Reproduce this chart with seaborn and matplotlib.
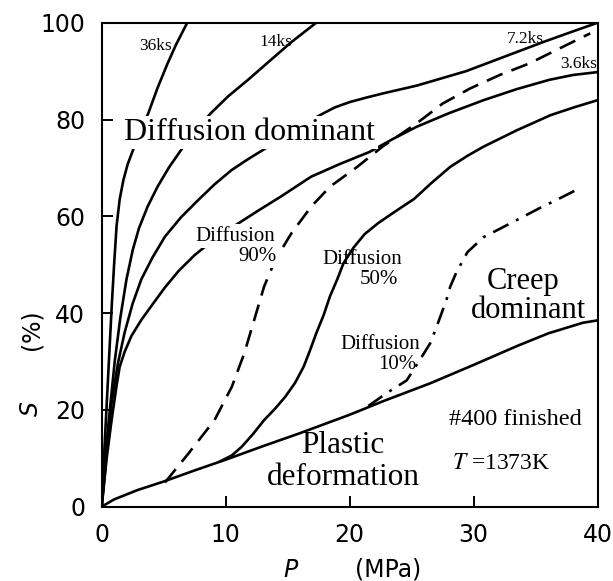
import matplotlib
matplotlib.use("Agg")
import matplotlib.pyplot as plt
import seaborn as sns

# ---------------- data ----------------
p_36ks = [0, 0.2, 0.4, 0.6, 0.8, 1.0, 1.2, 1.45, 1.75, 2.1, 2.5, 3.0, 3.76, 4.5, 5.3, 6.0, 6.9]
s_36ks = [0, 11, 21, 31, 41, 50, 58, 63.5, 67.5, 70.8, 73.5, 77, 81.3, 86.5, 91.5, 95.5, 100]

p_14ks = [0, 0.5, 1.05, 1.5, 2.0, 2.5, 3.0, 3.7, 4.5, 5.4, 6.4, 7.5, 8.8, 10.2, 11.8, 13.5, 15.3, 17.3]
s_14ks = [0, 16, 30, 39, 47, 53, 57.5, 62, 66.1, 70, 73.7, 77.5, 81.3, 84.8, 88.2, 92, 96, 100]

p_72ks = [0, 0.4, 0.8, 1.3, 1.85, 2.5, 3.2, 4.1, 5.1, 6.4, 7.8, 9.1, 10.5, 11.8, 13.0, 15.3,
          17.6, 18.8, 20, 21.3, 22.7, 25.4, 27.4, 29.4, 32.5, 35.6, 38, 40]
s_72ks = [0, 11, 21.4, 29.5, 36, 42, 47, 51.5, 55.8, 59.8, 63.4, 66.6, 69.6, 71.8, 73.7, 77.5,
          80.9, 82.5, 83.6, 84.5, 85.4, 87, 88.5, 90, 93, 96, 98.2, 100]

p_36s = [0, 0.4, 0.8, 1.2, 1.45, 1.85, 2.4, 3.2, 4.1, 5.1, 6.2, 7.5, 9.2, 11.0, 12.7, 14.4,
         16.9, 19.2, 21.6, 23.5, 25.4, 28, 30.8, 33.5, 36.1, 38, 40]
s_36s = [0, 10, 17.9, 25, 28.9, 32, 35.3, 38.6, 41.8, 45.3, 48.7, 52, 55.5, 58.5, 61.3, 64,
         68.2, 70.8, 73.3, 76, 78.5, 81.3, 84, 86.3, 88.2, 89.2, 89.8]

p_plastic = [0, 1.0, 2.85, 5.0, 7.5, 10.1, 13.0, 16.0, 20.0, 22.7, 26.5, 30.0, 33.5, 36.0, 38.8, 40]
s_plastic = [0, 1.5, 3.4, 5.2, 7.5, 9.8, 12.5, 15.2, 19.0, 21.8, 25.5, 29.3, 33.2, 35.8, 38.0, 38.5]

p_d50 = [9.5, 10.5, 11.3, 12.2, 13.1, 14.0, 14.8, 15.6, 16.3, 16.8, 17.3, 17.9, 18.4, 19.0, 19.5,
         20.3, 21.2, 22.3, 23.5, 25.2, 26.6, 28.1, 29.5, 30.8, 33.5, 36.2, 38.2, 40]
s_d50 = [9.3, 10.6, 12.4, 15.0, 17.9, 20.3, 22.7, 25.6, 29.0, 32.3, 35.8, 39.6, 43.4, 47.0, 50.3,
         53.5, 56.3, 58.6, 60.7, 63.6, 66.9, 70.2, 72.5, 74.4, 77.8, 80.9, 82.6, 84]

p_d90 = [5.1, 7.0, 9.1, 10.5, 11.5, 12.3, 13.1, 14.0, 15.3, 16.9, 18.4, 20.6, 22.7, 25.4, 27.5,
         29.7, 32.1, 34.5, 36.7, 39.4]
s_d90 = [5.0, 11, 17.9, 24.8, 31.7, 38.6, 45.5, 51, 56.5, 62, 66.1, 70.2, 74.5, 79.2, 83.3,
         86.4, 89.2, 91.6, 94.4, 97.8]

p_d10 = [21.5, 23.0, 24.6, 25.8, 26.5, 27.0, 27.8, 28.1, 28.6, 29.5, 30.8, 32.4, 33.9, 35.4, 36.7, 38.7]
s_d10 = [20.8, 23.5, 26.1, 30.9, 33.8, 37.1, 42.7, 45.4, 48.4, 52.6, 55.7, 57.8, 59.8, 61.8, 63.4, 66]

x_ticks = [0, 10, 20, 30, 40]
y_ticks = [0, 20, 40, 60, 80, 100]

# ---------------- style ----------------
sns.set_style("white")
plt.rcParams['font.family'] = ['DejaVu Sans']
plt.rcParams['mathtext.fontset'] = 'stix'
plt.rcParams['text.color'] = 'black'
plt.rcParams['axes.labelcolor'] = 'black'
plt.rcParams['xtick.color'] = 'black'
plt.rcParams['ytick.color'] = 'black'

fig = plt.figure(figsize=(6.13, 5.81), dpi=100)
ax = fig.add_axes([0.1659, 0.1279, 0.8091, 0.8330])

LW = 1.9
for P, S in [(p_36ks, s_36ks), (p_14ks, s_14ks), (p_72ks, s_72ks),
             (p_36s, s_36s), (p_plastic, s_plastic), (p_d50, s_d50)]:
    sns.lineplot(x=P, y=S, ax=ax, sort=False, estimator=None,
                 color='black', linewidth=LW, solid_joinstyle='round')

sns.lineplot(x=p_d90, y=s_d90, ax=ax, sort=False, estimator=None,
             color='black', linewidth=LW, linestyle=(0, (6.5, 3.6)))
sns.lineplot(x=p_d10, y=s_d10, ax=ax, sort=False, estimator=None,
             color='black', linewidth=LW, linestyle=(0, (6.5, 3.2, 1.1, 3.2)))

ax.set_xlim(0, 40)
ax.set_ylim(0, 100)
ax.set_xticks(x_ticks)
ax.set_yticks(y_ticks)
ax.set_xlabel("")
ax.set_ylabel("")
for sp in ax.spines.values():
    sp.set_visible(True)
    sp.set_color('black')
    sp.set_linewidth(1.5)
ax.tick_params(direction='in', length=8, width=1.4, labelsize=17, pad=12,
               top=False, right=False, bottom=True, left=True,
               colors='black', labelcolor='black')

serif = 'Liberation Serif'
wbox = dict(facecolor='white', edgecolor='none', pad=1.5)
K = 'black'

ax.text(11.95, 75.8, "Diffusion dominant", family=serif, fontsize=23, color=K,
        ha='center', va='baseline', bbox=wbox)
ax.text(34.0, 44.9, "Creep", family=serif, fontsize=22, ha='center', va='baseline', color=K)
ax.text(34.4, 38.9, "dominant", family=serif, fontsize=22, ha='center', va='baseline', color=K)
ax.text(19.46, 11.0, "Plastic", family=serif, fontsize=22.5, ha='center', va='baseline', color=K)
ax.text(19.46, 4.5, "deformation", family=serif, fontsize=22.5, ha='center', va='baseline', color=K)
ax.text(33.37, 16.9, "#400 finished", family=serif, fontsize=17.5, ha='center', va='baseline', color=K)
ax.text(28.25, 7.7, "$T$ =1373K", family=serif, fontsize=17, ha='left', va='baseline', color=K)

ax.text(13.98, 55.0, "Diffusion", family=serif, fontsize=15, ha='right', va='baseline', bbox=wbox, color=K)
ax.text(14.1, 50.8, "90%", family=serif, fontsize=15, ha='right', va='baseline', bbox=wbox, color=K)
ax.text(24.2, 50.1, "Diffusion", family=serif, fontsize=15, ha='right', va='baseline', color=K)
ax.text(23.9, 46.0, "50%", family=serif, fontsize=15, ha='right', va='baseline', color=K)
ax.text(25.67, 32.6, "Diffusion", family=serif, fontsize=15, ha='right', va='baseline', color=K)
ax.text(25.4, 28.4, "10%", family=serif, fontsize=15, ha='right', va='baseline', color=K)

ax.text(4.37, 94.4, "36ks", family=serif, fontsize=12.5, ha='center', va='baseline', color=K)
ax.text(14.04, 95.2, "14ks", family=serif, fontsize=12.5, ha='center', va='baseline', color=K)
ax.text(34.14, 95.9, "7.2ks", family=serif, fontsize=12.5, ha='center', va='baseline', color=K)
ax.text(38.44, 90.7, "3.6ks", family=serif, fontsize=12.5, ha='center', va='baseline', clip_on=True, color=K)

# axis titles
fig.text(290 / 613, 1 - 570 / 581, "P", fontsize=17, fontstyle='italic', ha='center', va='center', color=K)
fig.text(388 / 613, 1 - 570 / 581, "(MPa)", fontsize=17, ha='center', va='center', color=K)
fig.text(31 / 613, 1 - 408 / 581, "S", fontsize=17, fontstyle='italic', rotation=90, ha='center', va='center', color=K)
fig.text(31 / 613, 1 - 330 / 581, "(%)", fontsize=17, rotation=90, ha='center', va='center', color=K)

fig.savefig("out.png", dpi=100)
